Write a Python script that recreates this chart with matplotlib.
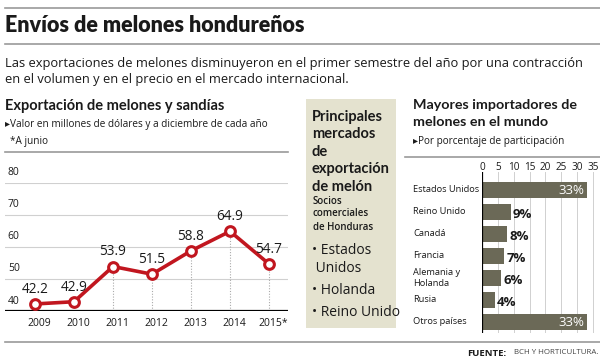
import matplotlib
matplotlib.use("Agg")
import matplotlib.pyplot as plt
from matplotlib.patches import Rectangle
from matplotlib.lines import Line2D
from matplotlib import font_manager

plt.rcParams['font.family'] = ['Open Sans', 'DejaVu Sans']

# ---- data ----
years = ["2009", "2010", "2011", "2012", "2013", "2014", "2015*"]
values = [42.2, 42.9, 53.9, 51.5, 58.8, 64.9, 54.7]
y_ticks = [40, 50, 60, 70, 80]

importers = ["Estados Unidos", "Reino Unido", "Canadá", "Francia",
             "Alemania y\nHolanda", "Rusia", "Otros países"]
shares = [33, 9, 8, 7, 6, 4, 33]
x_ticks = [0, 5, 10, 15, 20, 25, 30, 35]

markets = ["Estados\n Unidos", "Holanda", "Reino Unido"]

RED = "#c1161f"
BAR = "#6b6957"
BOX = "#e4e2cf"
GRID = "#d0d0d0"
TXT = "#1a1a1a"

names = {f.name for f in font_manager.fontManager.ttflist}
NARROW = "Liberation Sans Narrow" if "Liberation Sans Narrow" in names else "Open Sans"

W, H = 600, 360
fig = plt.figure(figsize=(6, 3.6), dpi=100)
fig.patch.set_facecolor("white")

def fx(px):
    return px / W

def fy(py):
    return 1 - py / H

def hline(x0, x1, y, color="#9a9a9a", lw=1.2):
    fig.add_artist(Line2D([fx(x0), fx(x1)], [fy(y), fy(y)], color=color, lw=lw,
                          transform=fig.transFigure))

def ftext(x, y, s, **kw):
    kw.setdefault("color", TXT)
    kw.setdefault("va", "center")
    fig.text(fx(x), fy(y), s, **kw)

# ---- header ----
hline(5, 600, 8)
ftext(5, 25, "Envíos de melones hondureños", fontsize=15.5, fontweight="heavy",
      family=["Lato", "DejaVu Sans"])
hline(5, 600, 44)
ftext(5, 63, "Las exportaciones de melones disminuyeron en el primer semestre del año por una contracción",
      fontsize=9.25)
ftext(5, 80, "en el volumen y en el precio en el mercado internacional.", fontsize=9.25)

# ---- left line chart ----
ftext(5, 106, "Exportación de melones y sandías", fontsize=10.5, fontweight="bold",
      family=["Lato", "DejaVu Sans"])
ftext(5, 124, "▸Valor en millones de dólares y a diciembre de cada año", fontsize=7.2,
      family=["Open Sans", "DejaVu Sans"])
ftext(10, 142, "*A junio", fontsize=7.2)
hline(5, 288, 152)

x_left, x_right = 5, 288
p0, step = 35, 39
ax = fig.add_axes([fx(x_left), fy(311), fx(x_right - x_left), (311 - 183) / H])
ax.set_xlim(-(p0 - x_left) / step, 6 + (x_right - (p0 + 6 * step)) / step)
ax.set_ylim(40, 80)
ax.axis("off")
for t in y_ticks[1:]:
    ax.axhline(t, color=GRID, lw=0.8, zorder=1)
    ax.text(0.01, t + 1.5, str(t), transform=ax.get_yaxis_transform(),
            fontsize=7.5, va="bottom", ha="left", color=TXT)
ax.text(0.01, 40 + 1.2, "40", transform=ax.get_yaxis_transform(),
        fontsize=7.5, va="bottom", ha="left", color=TXT)
ax.axhline(40, color="black", lw=1.6, zorder=2)
xs = list(range(len(values)))
for xi, v in zip(xs, values):
    ax.plot([xi, xi], [40, v], color="#aaaaaa", lw=0.8, ls=(0, (1, 1.5)), zorder=1)
ax.plot(xs, values, color=RED, lw=2.6, marker="o", markersize=7,
        markerfacecolor="white", markeredgecolor=RED, markeredgewidth=2.2,
        zorder=3, clip_on=False)
for xi, v in zip(xs, values):
    ax.text(xi, v + 2.2, f"{v}", ha="center", va="bottom", fontsize=9.8, color=TXT)
for xi, yr in zip(xs, years):
    ax.text(xi + 0.12, 36.0, yr, ha="center", va="center", fontsize=7.5, color=TXT)

hline(5, 600, 342)

# ---- middle box ----
fig.add_artist(Rectangle((fx(306), fy(328)), fx(396 - 306), (328 - 99) / H,
                         transform=fig.transFigure, facecolor=BOX, edgecolor="none", zorder=0))
head = ["Principales", "mercados", "de", "exportación", "de melón"]
for i, s in enumerate(head):
    ftext(312, 117 + i * 17.5, s, fontsize=10.5, fontweight="bold",
          family=["Lato", "DejaVu Sans"])
for i, s in enumerate(["Socios", "comerciales", "de Honduras"]):
    ftext(313, 201 + i * 13, s, fontsize=7, fontweight="semibold")
ypos = [250, 290, 312]
for y0, s in zip(ypos, markets):
    lines = s.split("\n")
    ftext(312, y0, "• " + lines[0], fontsize=10)
    for j, extra in enumerate(lines[1:], 1):
        ftext(312, y0 + j * 18, extra, fontsize=10)

# ---- right bar chart ----
ftext(413, 105, "Mayores importadores de", fontsize=10.3, fontweight="bold",
      family=["Lato", "DejaVu Sans"])
ftext(413, 122, "melones en el mundo", fontsize=10.3, fontweight="bold",
      family=["Lato", "DejaVu Sans"])
ftext(413, 142, "▸Por porcentaje de participación", fontsize=7.2,
      family=["Open Sans", "DejaVu Sans"])
hline(405, 600, 157)

x0px, unit = 482, (593 - 482) / 35
c0, cstep = 190, 22
bx = fig.add_axes([fx(x0px), fy(333), fx(600 - x0px), (333 - 172) / H])
bx.set_xlim(0, (600 - x0px) / unit)
bx.set_ylim((333 - c0) / cstep, -(c0 - 172) / cstep)
bx.axis("off")
for t in x_ticks[1:]:
    bx.axvline(t, color=GRID, lw=0.7, zorder=0)
for t in x_ticks:
    bx.text(t, -(c0 - 168) / cstep, str(t), ha="center", va="center", fontsize=7.2, color=TXT)
ypos_b = list(range(len(shares)))
bx.barh(ypos_b, shares, height=0.72, color=BAR, zorder=2)
bx.axvline(0, color="black", lw=1.6, zorder=3)
for yi, (name, v) in enumerate(zip(importers, shares)):
    if v >= 20:
        bx.text(v - 0.6, yi + 0.02, f"{v}%", ha="right", va="center", fontsize=9.5,
                color="white", zorder=4)
    else:
        bx.text(v + 0.7, yi + 0.12, f"{v}%", ha="left", va="center", fontsize=9.5,
                color=TXT, fontweight="bold", zorder=4)
    ftext(413, c0 + cstep * yi, name, fontsize=6.7, linespacing=1.15)

# ---- footer ----
fig.text(fx(598), fy(353), "BCH Y HORTICULTURA.", ha="right", va="center",
         fontsize=6.8 if NARROW != "Open Sans" else 5.7, color="#444444",
         family=[NARROW, "DejaVu Sans"])
fig.text(fx(506), fy(353), "FUENTE:", ha="right", va="center",
         fontsize=6.8, fontweight="bold", color=TXT, family=[NARROW, "DejaVu Sans"])

fig.savefig("out.png", dpi=100)
